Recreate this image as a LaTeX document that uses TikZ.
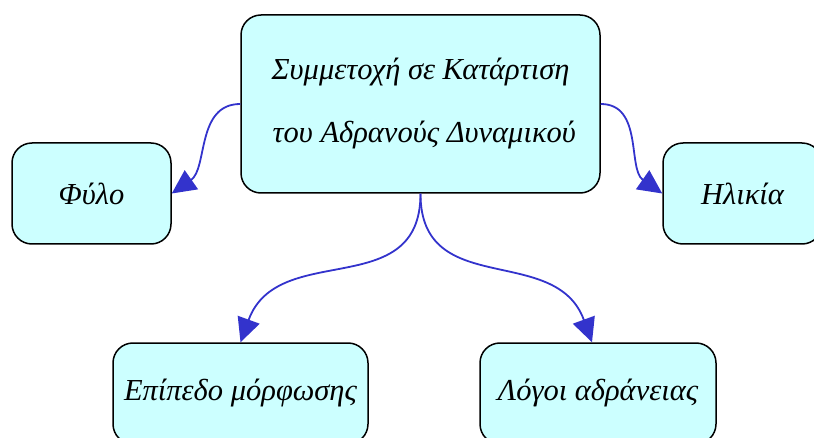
\documentclass[tikz,border=0pt]{standalone}
\usepackage{fontspec}
\setmainfont{Liberation Serif}
\usetikzlibrary{arrows.meta,positioning}
\definecolor{BoxCyan}{RGB}{204,255,255}
\definecolor{LinkBlue}{RGB}{51,51,204}

\begin{document}
\begin{tikzpicture}[x=1pt,y=1pt,
  topic/.style={rectangle,rounded corners=20pt,draw=black,line width=1.5pt,fill=BoxCyan,
    align=center,font=\fontsize{30.5}{63}\selectfont\itshape},
  link/.style={LinkBlue,line width=1.8pt,-{Triangle[length=24pt,width=23pt]}}]
  \useasboundingbox (0,0) rectangle (814,437);
  \node[topic,minimum width=359pt,minimum height=178pt] (main) at (420.5,333)
    {Συμμετοχή σε Κατάρτιση\\ \ του Αδρανούς Δυναμικού};
  \node[topic,minimum width=159pt,minimum height=101pt] (sex) at (91.5,243.5) {Φύλο};
  \node[topic,minimum width=159pt,minimum height=101pt] (age) at (742.5,243.5) {Ηλικία};
  \node[topic,minimum width=255pt,minimum height=101pt] (edu) at (240.5,43.5) {Επίπεδο μόρφωσης};
  \node[topic,minimum width=236pt,minimum height=101pt] (why) at (598,43.5) {Λόγοι αδράνειας};
  \draw[link] (main.west) to[out=180,in=35] (sex.east);
  \draw[link] (main.east) to[out=0,in=145] (age.west);
  \draw[link] (main.south) to[out=-90,in=70,looseness=1.2] (edu.north);
  \draw[link] (main.south) to[out=-90,in=110,looseness=1.2] ([xshift=-6pt]why.north);
\end{tikzpicture}
\end{document}
